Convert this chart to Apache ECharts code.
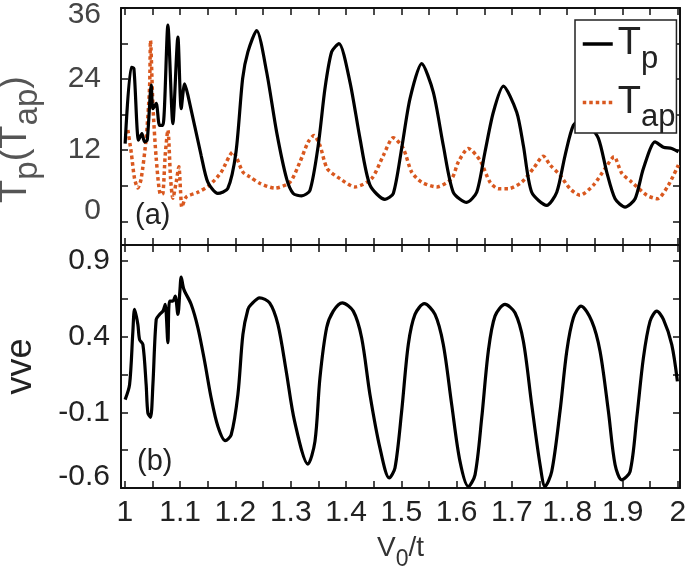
<!DOCTYPE html>
<html><head><meta charset="utf-8">
<script src="https://cdn.jsdelivr.net/npm/echarts@6/dist/echarts.min.js"></script>
<style>html,body{margin:0;padding:0;background:#fff}#c{width:685px;height:568px}</style>
</head><body><div id="c"></div>
<script>
// ---- data ----
const tpX = [1.0005,1.0114,1.0163,1.0247,1.0308,1.0356,1.0404,1.0477,1.0507,1.0567,1.0627,1.0688,1.0778,1.0868,1.0959,1.1019,1.108,1.114,1.138,1.150,1.168,1.186,1.201,1.213,1.2225,1.2383,1.2564,1.2744,1.2925,1.3045,1.3197,1.3347,1.3497,1.3619,1.374,1.3872,1.4071,1.4252,1.4433,1.4704,1.4855,1.5006,1.5157,1.5368,1.5578,1.5759,1.594,1.6182,1.6363,1.6513,1.6664,1.6845,1.7087,1.7207,1.7358,1.763,1.7811,1.7961,1.8112,1.829,1.835,1.8564,1.8715,1.8866,1.9047,1.9228,1.9378,1.9589,1.974,1.9891,2.0012];
const tpY = [13.1,26.0,25.8,13.7,14.8,13.4,13.7,23.0,19.0,19.9,16.2,16.2,33.1,16.5,31.1,19.0,23.2,21.3,11.1,6.6,4.7,5.5,11.7,24.1,28.6,32.2,25.2,15.1,7.2,4.7,4.3,5.2,12.8,22.4,28.6,30.0,23.5,14.0,6.1,3.7,4.7,12.3,20.7,26.6,21.8,12.8,4.9,3.2,4.9,11.7,18.4,22.8,18.4,12.8,4.9,2.7,4.9,11.1,16.2,17.3,16.8,14.0,8.3,3.8,2.4,3.8,8.9,13.4,12.5,12.3,11.7];
const tapX = [1.0054,1.0114,1.0175,1.0235,1.0295,1.0385,1.0446,1.0464,1.0507,1.0567,1.0646,1.0688,1.0729,1.0778,1.0827,1.0868,1.0928,1.0977,1.1008,1.1031,1.1109,1.1321,1.1532,1.1742,1.1954,1.2135,1.226,1.2443,1.2714,1.2985,1.3166,1.3316,1.342,1.3528,1.366,1.389,1.4161,1.4463,1.4674,1.4855,1.5035,1.5187,1.5368,1.564,1.5911,1.603,1.6212,1.6423,1.6604,1.6755,1.6935,1.7177,1.7388,1.7568,1.769,1.787,1.8051,1.8232,1.8473,1.8685,1.8847,1.8987,1.9168,1.9439,1.9631,1.983,2.0011];
const tapY = [15.4,11.7,7.2,5.6,7.2,14.0,22.4,30.5,19.6,10.6,4.5,4.7,11.1,15.4,7.2,3.9,6.6,9.2,4.9,2.4,4.1,4.9,6.1,8.3,11.7,8.3,7.5,6.4,5.6,6.6,10.0,13.4,14.5,12.8,8.9,7.2,5.8,7.2,11.1,14.1,12.3,8.3,6.6,5.8,7.2,10.0,12.3,10.3,6.6,5.5,5.5,6.6,8.9,11.0,9.5,7.8,5.5,4.4,6.1,8.9,10.9,8.1,6.6,4.4,3.8,6.1,9.5];
const vveX = [1.0005,1.0085,1.0145,1.0175,1.0235,1.0266,1.0326,1.0385,1.0416,1.0464,1.0507,1.0567,1.0627,1.0688,1.0729,1.0778,1.0808,1.0868,1.091,1.0959,1.0995,1.1019,1.1067,1.12,1.1321,1.1442,1.1561,1.1683,1.1815,1.1923,1.2044,1.2135,1.2225,1.2285,1.2437,1.2618,1.2768,1.2918,1.307,1.3311,1.3438,1.3528,1.3649,1.3769,1.3932,1.4131,1.4282,1.4433,1.4614,1.4782,1.4885,1.5006,1.5126,1.5247,1.5416,1.5609,1.5759,1.5911,1.6061,1.6212,1.6333,1.6454,1.6573,1.6694,1.6875,1.7056,1.7207,1.7358,1.7509,1.7599,1.772,1.787,1.7992,1.8112,1.825,1.8444,1.8594,1.8745,1.8866,1.8987,1.9137,1.9258,1.9378,1.9499,1.962,1.974,1.9891,1.9993];
const vveY = [-0.016,0.083,0.436,0.58,0.481,0.381,0.348,0.083,-0.104,-0.133,0.083,0.514,0.547,0.569,0.613,0.36,0.635,0.635,0.668,0.547,0.701,0.794,0.713,0.613,0.459,0.238,-0.005,-0.193,-0.287,-0.248,0.017,0.415,0.58,0.613,0.657,0.624,0.481,0.172,-0.16,-0.442,-0.292,0.128,0.459,0.569,0.624,0.569,0.393,0.017,-0.336,-0.534,-0.468,-0.093,0.348,0.547,0.618,0.547,0.348,-0.049,-0.424,-0.59,-0.513,-0.137,0.304,0.536,0.613,0.558,0.37,-0.049,-0.446,-0.59,-0.491,-0.093,0.304,0.525,0.602,0.503,0.304,-0.093,-0.446,-0.546,-0.491,-0.137,0.26,0.503,0.569,0.514,0.348,0.105];
const xTickValues = [1,1.05,1.1,1.15,1.2,1.25,1.3,1.35,1.4,1.45,1.5,1.55,1.6,1.65,1.7,1.75,1.8,1.85,1.9,1.95,2];
const xLabelValues = [1,1.1,1.2,1.3,1.4,1.5,1.6,1.7,1.8,1.9,2];
const xLabelTexts = ['1','1.1','1.2','1.3','1.4','1.5','1.6','1.7','1..8','1.9','2'];
const topTickValues = [0,6,12,18,24,30,36];
const topLabelValues = [0,12,24,36];
const botTickValues = [-0.6,-0.35,-0.1,0.15,0.4,0.65,0.9];
const botLabelValues = [-0.6,-0.1,0.4,0.9];

const zip = (a,b)=>a.map((v,i)=>[v,b[i]]);
const FONT = 'Liberation Sans, Arial, sans-serif';
const lineCol = '#111';
const axisLine = {show:true, onZero:false, lineStyle:{color:lineCol, width:2}};
const tick = vals => ({show:true, inside:true, length:7, lineStyle:{color:lineCol, width:1.5}, customValues: vals});
const noLabel = {show:false};
const XMIN = 0.993, XMAX = 2.004;
const lblStyle = c => ({fontSize:30, fontFamily:FONT, color:c});

const chart = echarts.init(document.getElementById('c'));
chart.setOption({
  animation:false,
  backgroundColor:'#fff',
  grid:[
    {left:121, right:5, top:8, height:237, containLabel:false, outerBoundsMode:'none'},
    {left:121, right:5, top:245, height:243, containLabel:false, outerBoundsMode:'none'}
  ],
  legend:{
    data:['Tp','Tap'], orient:'vertical', left:575, top:20,
    itemWidth:30, itemHeight:14, itemGap:9,
    backgroundColor:'#fff', borderColor:'#222', borderWidth:1.5, borderRadius:0,
    padding:[5,1,0,6], z:10,
    itemStyle:{color:'rgba(0,0,0,0)', borderColor:'rgba(0,0,0,0)', borderWidth:0, opacity:0},
    lineStyle:{width:3.5},
    formatter: n => n==='Tp' ? '{t|T}{s|p}' : '{t|T}{s|ap}',
    textStyle:{ color:'#222', fontFamily:FONT,
      rich:{ t:{fontSize:38, fontFamily:FONT, color:'#222'}, s:{fontSize:31, fontFamily:FONT, color:'#222', padding:[30,0,0,0]} } }
  },
  xAxis:[
    {type:'value', gridIndex:0, min:XMIN, max:XMAX, position:'bottom', axisLine, axisTick:tick(xTickValues), axisLabel:noLabel, splitLine:{show:false}},
    {type:'value', gridIndex:0, min:XMIN, max:XMAX, position:'top', axisLine, axisTick:tick(xTickValues), axisLabel:noLabel, splitLine:{show:false}},
    {type:'value', gridIndex:1, min:XMIN, max:XMAX, position:'bottom', axisLine, axisTick:tick(xTickValues),
      axisLabel:{show:true, customValues:xLabelValues, margin:10, fontSize:30, fontFamily:FONT, color:'#222',
        formatter:v=>{const i = xLabelValues.findIndex(x=>Math.abs(x-v)<1e-6); return i>=0?xLabelTexts[i]:'';}},
      splitLine:{show:false},
      name:'{t|V}{s|0}{t|/t}', nameLocation:'middle', nameGap:38,
      nameTextStyle:{rich:{t:{fontSize:28, fontFamily:FONT, color:'#333'}, s:{fontSize:23, fontFamily:FONT, color:'#333', padding:[22,0,0,0]}}}},
    {type:'value', gridIndex:1, min:XMIN, max:XMAX, position:'top', axisLine, axisTick:tick(xTickValues), axisLabel:noLabel, splitLine:{show:false}}
  ],
  yAxis:[
    {type:'value', gridIndex:0, min:-4, max:36, position:'left', axisLine, axisTick:tick(topTickValues),
      axisLabel:{show:true, customValues:topLabelValues, margin:20, fontSize:30, fontFamily:FONT, color:'#444',
        formatter:v=> v===36 ? '{dn|36}' : v===0 ? '{up|0}' : '{n|'+v+'}',
        rich:{ n:lblStyle('#444'), dn:Object.assign(lblStyle('#444'),{padding:[14,0,0,0]}), up:Object.assign(lblStyle('#444'),{padding:[0,0,22,0]}) }},
      splitLine:{show:false},
      name:'{t|T}{s|p}{t|(}{t|T}{s|ap}{t|)}{g| }', nameLocation:'middle', nameRotate:90, nameGap:77,
      nameTextStyle:{rich:{t:{fontSize:38, fontFamily:FONT, color:'#555'}, s:{fontSize:33, fontFamily:FONT, color:'#555', padding:[24,0,0,0]}, g:{width:26, fontSize:10}}}},
    {type:'value', gridIndex:0, min:-4, max:36, position:'right', axisLine, axisTick:tick(topTickValues), axisLabel:noLabel, splitLine:{show:false}},
    {type:'value', gridIndex:1, min:-0.6, max:1.006, position:'left', axisLine, axisTick:tick(botTickValues),
      axisLabel:{show:true, customValues:botLabelValues, margin:11, fontSize:30, fontFamily:FONT, color:'#222',
        formatter:v=>{const s=(Math.round(v*10)/10).toFixed(1); return Math.abs(v+0.6)<1e-6 ? '{up|'+s+'}' : '{n|'+s+'}';},
        rich:{ n:lblStyle('#222'), up:Object.assign(lblStyle('#222'),{padding:[0,0,22,0]}) }},
      splitLine:{show:false},
      name:'vve', nameLocation:'middle', nameRotate:90, nameGap:82,
      nameTextStyle:{fontSize:36, fontFamily:FONT, color:'#222'}},
    {type:'value', gridIndex:1, min:-0.6, max:1.006, position:'right', axisLine, axisTick:tick(botTickValues), axisLabel:noLabel, splitLine:{show:false}}
  ],
  series:[
    {name:'Tp', type:'line', xAxisIndex:0, yAxisIndex:0, data:zip(tpX,tpY), symbol:'none', smooth:0.25,
      lineStyle:{color:'#000', width:3.2}, itemStyle:{color:'#000'}, z:3},
    {name:'Tap', type:'line', xAxisIndex:0, yAxisIndex:0, data:zip(tapX,tapY), symbol:'none', smooth:0.25,
      lineStyle:{color:'#d9581f', width:3.5, type:[3.5,3]}, itemStyle:{color:'#d9581f'}, z:2},
    {name:'vve', type:'line', xAxisIndex:2, yAxisIndex:2, data:zip(vveX,vveY), symbol:'none', smooth:0.3,
      lineStyle:{color:'#000', width:3.2}, itemStyle:{color:'#000'}}
  ],
  graphic:[
    {type:'text', left:135, top:201, style:{text:'(a)', fontSize:29, fontFamily:FONT, fill:'#222'}},
    {type:'text', left:137, top:447, style:{text:'(b)', fontSize:29, fontFamily:FONT, fill:'#222'}}
  ]
});
</script></body></html>
